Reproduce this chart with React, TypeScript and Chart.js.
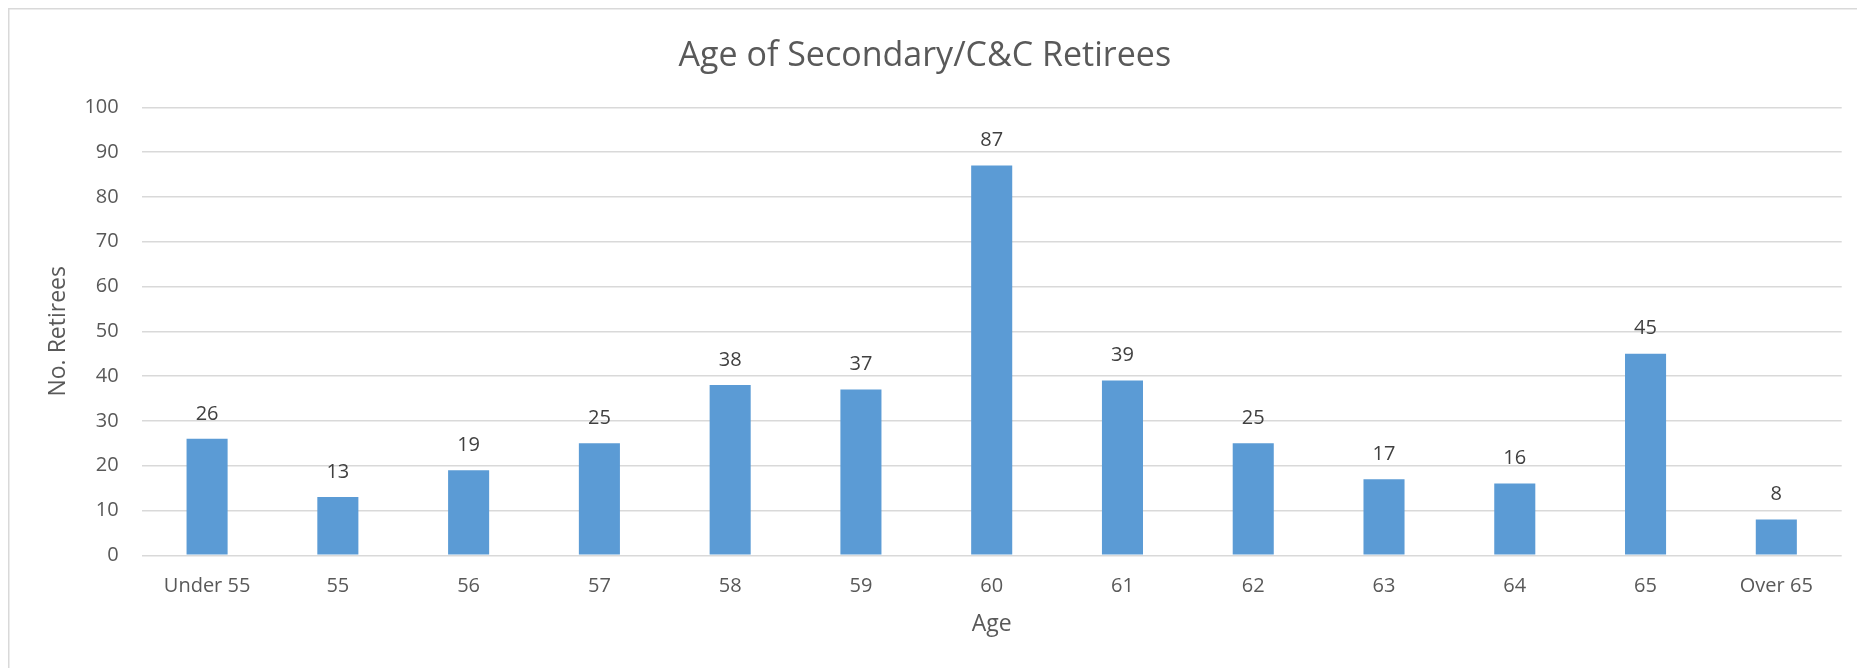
import React, { useEffect, useRef } from "react";
import { Chart, registerables } from "chart.js";

Chart.register(...registerables);

const categories = ["Under 55", "55", "56", "57", "58", "59", "60", "61", "62", "63", "64", "65", "Over 65"];
const retirees = [26, 13, 19, 25, 38, 37, 87, 39, 25, 17, 16, 45, 8];
const titleText = "Age of Secondary/C&C Retirees";
const xTitle = "Age";
const yTitle = "No. Retirees";

const FONT = "'Open Sans', 'Noto Sans', sans-serif";

export default function App() {
  const ref = useRef<HTMLCanvasElement | null>(null);

  useEffect(() => {
    document.body.style.overflow = "hidden";
    const canvas = ref.current!;
    const frame = {
      id: "frame",
      beforeDraw(chart: any) {
        const c = chart.ctx;
        c.save();
        c.fillStyle = "#ffffff";
        c.fillRect(0, 0, chart.width, chart.height);
        c.strokeStyle = "#d9d9d9";
        c.lineWidth = 1.5;
        c.beginPath();
        c.moveTo(0.75, chart.height);
        c.lineTo(0.75, 0.75);
        c.lineTo(chart.width, 0.75);
        c.stroke();
        c.restore();
      },
    };
    const labels = {
      id: "valueLabels",
      afterDatasetsDraw(chart: any) {
        const c = chart.ctx;
        const meta = chart.getDatasetMeta(0);
        c.save();
        c.font = `20px ${FONT}`;
        c.fillStyle = "#404040";
        c.textAlign = "center";
        c.textBaseline = "middle";
        meta.data.forEach((bar: any, i: number) => {
          c.fillText(String(chart.data.datasets[0].data[i]), bar.x, bar.y - 25);
        });
        c.restore();
      },
    };
    const chart = new Chart(canvas, {
      type: "bar",
      data: {
        labels: categories,
        datasets: [
          {
            data: retirees,
            backgroundColor: "#5b9bd5",
            categoryPercentage: 1,
            barPercentage: 0.314,
          },
        ],
      },
      options: {
        responsive: false,
        animation: false,
        devicePixelRatio: 1,
        layout: { padding: { left: 0, right: 23.3, top: 0, bottom: 22.7 } },
        plugins: {
          legend: { display: false },
          tooltip: { enabled: false },
          title: {
            display: true,
            text: titleText,
            color: "#595959",
            font: { family: FONT, size: 34, weight: "normal" },
            padding: { top: 27.6, bottom: 30.9 },
          },
        },
        scales: {
          x: {
            grid: { display: false, drawTicks: false },
            border: { display: false },
            ticks: {
              color: "#595959",
              font: { family: FONT, size: 20 },
              padding: 19,
              maxRotation: 0,
              autoSkip: false,
            },
            title: {
              display: true,
              text: xTitle,
              color: "#595959",
              font: { family: FONT, size: 23 },
              padding: { top: 0, bottom: 7.5 },
            },
            afterFit(scale: any) {
              scale.height = 90;
            },
          },
          y: {
            min: 0,
            max: 100,
            grid: { color: "#d9d9d9", lineWidth: 1.5, drawTicks: false },
            border: { display: false },
            ticks: {
              stepSize: 10,
              color: "#595959",
              font: { family: FONT, size: 20 },
              padding: 23,
            },
            title: {
              display: true,
              text: yTitle,
              color: "#595959",
              font: { family: FONT, size: 23 },
              padding: { top: 36.5, bottom: 0 },
            },
            afterFit(scale: any) {
              scale.width = 133.7;
            },
          },
        },
      },
      plugins: [frame, labels],
    } as any);
    return () => chart.destroy();
  }, []);

  return <canvas ref={ref} width={1857} height={660} style={{ display: "block", width: 1857, height: 660 }} />;
}
